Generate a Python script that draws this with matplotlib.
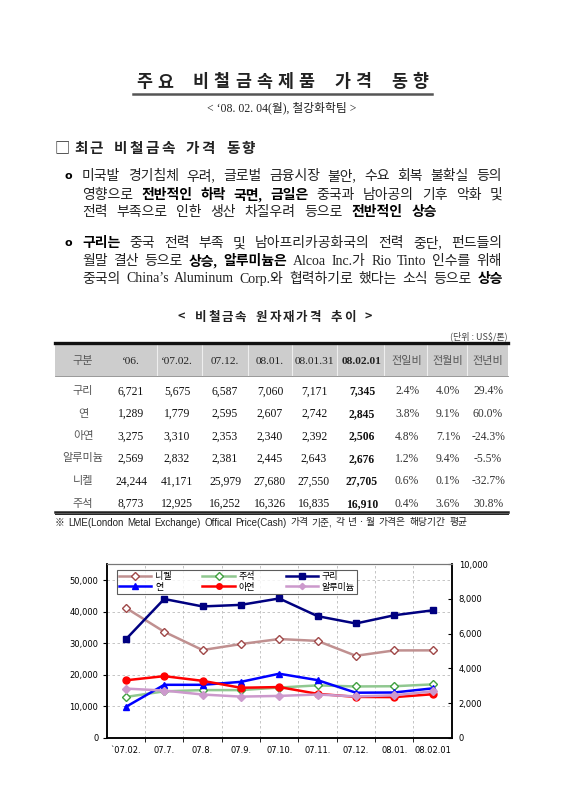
import matplotlib
matplotlib.use('Agg')
import matplotlib.pyplot as plt
import numpy as np

SERIF = ['Liberation Serif', 'Noto Sans CJK KR']
SANS = ['DejaVu Sans', 'Noto Sans CJK KR']
KR = ['Noto Sans CJK KR', 'DejaVu Sans']
plt.rcParams['font.family'] = SERIF

# --- table data (US$/ton) ---
metals = ['구리', '연', '아연', '알루미늄', '니켈', '주석']
col_heads = ['구분', '‘06.', '‘07.02.', '07.12.', '08.01.', '08.01.31', '08.02.01', '전일비', '전월비', '전년비']
p06 = [6721, 1289, 3275, 2569, 24244, 8773]
p0702 = [5675, 1779, 3310, 2832, 41171, 12925]
p0712 = [6587, 2595, 2353, 2381, 25979, 16252]
p0801 = [7060, 2607, 2340, 2445, 27680, 16326]
p080131 = [7171, 2742, 2392, 2643, 27550, 16835]
p080201 = [7345, 2845, 2506, 2676, 27705, 16910]
d_day = [2.4, 3.8, 4.8, 1.2, 0.6, 0.4]
d_month = [4.0, 9.1, 7.1, 9.4, 0.1, 3.6]
d_year = [29.4, 60.0, -24.3, -5.5, -32.7, 30.8]

# --- chart data ---
months = ['`07.02.', '07.7.', '07.8.', '07.9.', '07.10.', '07.11.', '07.12.', '08.01.', '08.02.01']
nickel = [41171, 33600, 27800, 29700, 31300, 30700, 25979, 27680, 27705]
tin = [12925, 14700, 15100, 15100, 15900, 16600, 16252, 16326, 16910]
copper = [5675, 8000, 7570, 7660, 8030, 7010, 6587, 7060, 7345]
lead = [1779, 3050, 3050, 3220, 3690, 3320, 2595, 2607, 2845]
zinc = [3310, 3550, 3280, 2880, 2920, 2530, 2353, 2340, 2506]
alum = [2832, 2720, 2490, 2370, 2410, 2490, 2381, 2445, 2676]

W, H = 566, 800
fig = plt.figure(figsize=(W / 100, H / 100), dpi=100)
ov = fig.add_axes([0, 0, 1, 1])
ov.set_xlim(0, W)
ov.set_ylim(H, 0)
ov.axis('off')
R = fig.canvas.get_renderer()


def width(s, **kw):
    t = ov.text(0, 0, s, **kw)
    w = t.get_window_extent(renderer=R).width
    t.remove()
    return w


def spaced(text, x0, x1, y, space=0.35, **kw):
    # place characters one by one, spread to fill x0..x1
    ws = []
    for c in text:
        ws.append(None if c == ' ' else width(c, **kw))
    em = max(w for w in ws if w)
    ws = [em * space if w is None else w for w in ws]
    track = (x1 - x0 - sum(ws)) / (len(text) - 1)
    x = x0
    for c, w in zip(text, ws):
        if c != ' ':
            ov.text(x, y, c, ha='left', va='center_baseline', **kw)
        x += w + track


def line(runs, x0, y, x1=None, size=10, color='#222222', family=SERIF, gap=4.0):
    words = [[]]
    for s, b in runs:
        parts = s.split(' ')
        for i, p in enumerate(parts):
            if i > 0:
                words.append([])
            if p:
                words[-1].append((p, b))
    words = [w for w in words if w]
    kws = lambda b: dict(fontsize=size, family=family, weight='bold' if b else 'normal')
    wid = [[width(p, **kws(b)) for p, b in w] for w in words]
    total = sum(sum(w) for w in wid)
    g = gap if x1 is None else (x1 - x0 - total) / (len(words) - 1)
    x = x0
    for w, ww in zip(words, wid):
        for (p, b), pw in zip(w, ww):
            ov.text(x, y, p, ha='left', va='center_baseline',
                    color='black' if b else color, **kws(b))
            x += pw
        x += g


# title
spaced('주요 비철금속제품 가격 동향', 136, 428, 80, space=0.6,
       fontsize=12.5, family=KR, weight='bold', color='#222222')
ov.plot([133, 432], [93.5, 93.5], color='#555555', lw=1.8)
ov.text(282, 106.5, '< ‘08. 02. 04(월), 철강화학팀 >', ha='center', va='center_baseline',
        fontsize=8.5, color='#222222')

# section header
ov.text(55, 146, '□', ha='left', va='center_baseline', fontsize=11, family=KR, color='#222222')
spaced('최근 비철금속 가격 동향', 74, 255, 146, space=0.5,
       fontsize=10.5, family=KR, weight='bold', color='#222222')

# paragraph 1
ov.text(68, 175, 'o', ha='center', va='center_baseline', fontsize=8, family='DejaVu Sans', weight='bold')
line([('미국발 경기침체 우려, 글로벌 금융시장 불안, 수요 회복 불확실 등의', False)], 82, 175, 502)
line([('영향으로 ', False), ('전반적인 하락 국면, 금일은', True), (' 중국과 남아공의 기후 악화 및', False)],
     82, 193.5, 502)
line([('전력 부족으로 인한 생산 차질우려 등으로 ', False), ('전반적인 상승', True)], 82, 211, 437)

# paragraph 2
ov.text(68, 242, 'o', ha='center', va='center_baseline', fontsize=8, family='DejaVu Sans', weight='bold')
line([('구리는', True), (' 중국 전력 부족 및 남아프리카공화국의 전력 중단, 펀드들의', False)], 82, 242, 502)
line([('월말 결산 등으로 ', False), ('상승, 알루미늄은', True), (' Alcoa Inc.가 Rio Tinto 인수를 위해', False)],
     82, 260, 502)
line([('중국의 China’s Aluminum Corp.와 협력하기로 했다는 소식 등으로 ', False), ('상승', True)],
     82, 277.5, 503)

# table title and unit
spaced('< 비철금속 원자재가격 추이 >', 178, 372, 315.5, space=0.5,
       fontsize=9, family=KR, weight='bold', color='#222222')
ov.text(508, 335, '(단위 : US$/톤)', ha='right', va='center_baseline', fontsize=6.5, family=KR, color='#444444')

# table
tx0, tx1 = 55, 508
bounds = [tx0, 108, 156.5, 201.5, 248, 291.5, 337, 384, 427, 467, tx1]
centers = [83, 131, 177, 225, 270, 314, 362, 407, 448, 488]
ov.fill_between([tx0, tx1], 344, 375.5, color='#cdcdcd', lw=0)
for b in bounds[2:-1]:
    ov.plot([b, b], [344, 375.5], color='#eeeeee', lw=0.8)
ov.plot([tx0, tx1], [343.2, 343.2], color='#111111', lw=2.4)
ov.plot([tx0, tx1], [375.5, 375.5], color='#888888', lw=0.6)
ov.plot([tx0, tx1], [511.5, 511.5], color='#222222', lw=1.8)
ov.plot([tx0, tx1], [514.3, 514.3], color='#222222', lw=0.7)

for i, h in enumerate(col_heads):
    kr = h[0] in '구전'
    ov.text(centers[i], 360, h, ha='center', va='center_baseline',
            fontsize=8 if kr else 8.2, family=KR if kr else SERIF,
            weight='bold' if i == 6 else 'normal',
            color='#555555' if kr else '#222222')

row_y = [390, 412.5, 435, 457.5, 480, 502.5]
cols = [p06, p0702, p0712, p0801, p080131, p080201]
for r, m in enumerate(metals):
    y = row_y[r]
    ov.text(centers[0], y, m, ha='center', va='center_baseline', fontsize=8, family=KR, color='#555555')
    for j, c in enumerate(cols):
        ov.text(centers[j + 1], y, f'{c[r]:,}', ha='center', va='center_baseline', fontsize=8.4,
                weight='bold' if j == 5 else 'normal', color='#111111')
    for j, c in enumerate([d_day, d_month, d_year]):
        ov.text(centers[j + 7], y, f'{c[r]:.1f}%', ha='center', va='center_baseline', fontsize=8.4,
                color='#333333')

line([('※ LME(London Metal Exchange) Offical Price(Cash) 가격 기준, 각 년ㆍ월 가격은 해당기간 평균', False)],
     55, 521.5, 467, size=7, family=['Liberation Sans', 'Noto Sans CJK KR'], color='#222222')

# chart
ax = fig.add_axes([106.7 / W, 1 - 737.7 / H, 345 / W, 173.4 / H])
x = np.arange(len(months))
ax.set_xlim(-0.5, len(months) - 0.5)
ax.set_ylim(0, 55000)
ax.set_yticks(np.arange(0, 50001, 10000))
ax.set_yticklabels([f'{v:,}' for v in range(0, 50001, 10000)], family='DejaVu Sans', fontsize=6)
ax.set_xticks(x)
ax.set_xticklabels(months, family='DejaVu Sans', fontsize=6)
ax.set_xticks(np.arange(0.5, len(months) - 1), minor=True)
ax.tick_params(axis='x', which='major', length=0, pad=6)
ax.tick_params(axis='x', which='minor', length=3, direction='out')
ax.tick_params(axis='y', length=3, direction='out', pad=3)
ax.yaxis.grid(True, ls=(0, (3, 3)), color='#bbbbbb', lw=0.6)
ax.xaxis.grid(True, which='minor', ls=(0, (3, 3)), color='#bbbbbb', lw=0.6)
ax.set_axisbelow(True)

l_ni, = ax.plot(x, nickel, color='#c09090', lw=1.8, marker='D', ms=4.5, mfc='white', mec='#a04848',
                mew=1.0, label='니켈')
l_sn, = ax.plot(x, tin, color='#90c890', lw=1.8, marker='D', ms=4.5, mfc='white', mec='#40a040',
                mew=1.0, label='주석')

ax2 = ax.twinx()
ax2.set_ylim(0, 10000)
ax2.set_yticks(np.arange(0, 10001, 2000))
ax2.set_yticklabels([f'{v:,}' for v in range(0, 10001, 2000)], family='DejaVu Sans', fontsize=6)
ax2.tick_params(axis='y', length=3, direction='in', pad=5)
l_cu, = ax2.plot(x, copper, color='#000080', lw=1.8, marker='s', ms=5, label='구리')
l_pb, = ax2.plot(x, lead, color='#0000ff', lw=1.8, marker='^', ms=5, label='연')
l_zn, = ax2.plot(x, zinc, color='#ff0000', lw=1.8, marker='o', ms=5, label='아연')
l_al, = ax2.plot(x, alum, color='#cc99cc', lw=1.8, marker='D', ms=4, label='알루미늄')

for a in (ax, ax2):
    a.spines['top'].set_color('#777777')
    a.spines['top'].set_linewidth(0.8)
    for s in ('left', 'right', 'bottom'):
        a.spines[s].set_color('black')
        a.spines[s].set_linewidth(1.1)

handles = [l_ni, l_pb, l_sn, l_zn, l_cu, l_al]
leg = fig.legend(handles, [h.get_label() for h in handles], ncol=3, loc='upper left',
                 bbox_to_anchor=(116.7 / W, 1 - 570 / H), prop={'family': KR, 'size': 6.5},
                 frameon=True, fancybox=False, edgecolor='#333333', borderpad=0.25,
                 handlelength=3.6, handletextpad=0.4, columnspacing=3.4, labelspacing=0.15,
                 borderaxespad=0, markerscale=0.8)
leg.get_frame().set_linewidth(0.8)

fig.savefig('out.png', dpi=100, facecolor='white')
